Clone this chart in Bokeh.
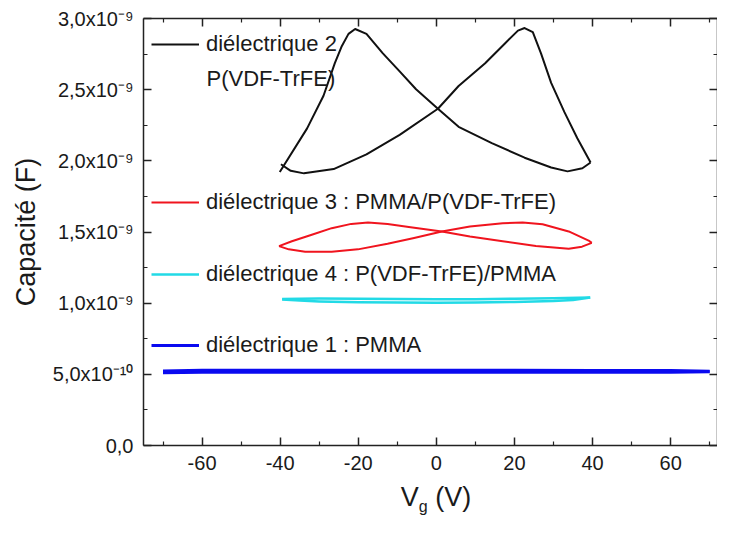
from bokeh.plotting import figure
from bokeh.models import (Legend, LegendItem, Label, LinearAxis, FixedTicker,
                          CustomJSTickFormatter, Range1d, Div)
from bokeh.layouts import column
from bokeh.embed import file_html
from bokeh.resources import INLINE

FONT = "Liberation Sans"

# ---------------- data (Vg in V, capacitance in F) ----------------
# dielectric 2 : P(VDF-TrFE)
vg_d2_fwd = [-39.8, -37.3, -33.9, -26.3, -17.9, -9.4, 0.4, 5.7, 12.5, 17.5, 20.9, 22.6, 24.7, 26.8, 29.4, 32.8, 36.1, 39.5]
c_d2_fwd = [1.976e-9, 1.930e-9, 1.912e-9, 1.942e-9, 2.045e-9, 2.182e-9, 2.366e-9, 2.526e-9, 2.686e-9, 2.823e-9,
            2.915e-9, 2.933e-9, 2.904e-9, 2.755e-9, 2.548e-9, 2.342e-9, 2.159e-9, 1.988e-9]
vg_d2_bwd = [39.5, 37.4, 33.6, 29.4, 22.6, 14.2, 5.7, 0.4, -5.2, -9.4, -13.7, -17.9, -20.8, -22.5, -24.3, -26.0, -28.9, -33.1, -40.1]
c_d2_bwd = [1.988e-9, 1.948e-9, 1.926e-9, 1.953e-9, 2.022e-9, 2.125e-9, 2.239e-9, 2.366e-9, 2.503e-9, 2.629e-9,
            2.755e-9, 2.892e-9, 2.926e-9, 2.892e-9, 2.801e-9, 2.686e-9, 2.457e-9, 2.228e-9, 1.921e-9]

# dielectric 3 : PMMA/P(VDF-TrFE)
vg_d3_fwd = [-40.3, -37.8, -33.6, -26.8, -20.1, -12.5, -5.7, 1.4, 8.6, 17.0, 22.1, 27.2, 33.9, 39.0, 39.8]
c_d3_fwd = [1.401e-9, 1.378e-9, 1.362e-9, 1.362e-9, 1.378e-9, 1.417e-9, 1.458e-9, 1.504e-9, 1.538e-9, 1.562e-9,
            1.566e-9, 1.555e-9, 1.504e-9, 1.440e-9, 1.424e-9]
vg_d3_bwd = [39.8, 37.3, 33.9, 25.5, 17.0, 8.6, 1.4, -6.6, -12.5, -17.5, -21.8, -26.8, -31.9, -37.0, -40.3]
c_d3_bwd = [1.424e-9, 1.397e-9, 1.383e-9, 1.401e-9, 1.435e-9, 1.469e-9, 1.504e-9, 1.534e-9, 1.557e-9, 1.566e-9,
            1.557e-9, 1.527e-9, 1.481e-9, 1.435e-9, 1.401e-9]

# dielectric 4 : P(VDF-TrFE)/PMMA
vg_d4_fwd = [-39.5, -35, -30, -20, -10, 0, 10, 20, 30, 35, 39.4]
c_d4_fwd = [1.026e-9, 1.018e-9, 1.012e-9, 1.006e-9, 1.004e-9, 1.003e-9, 1.005e-9, 1.008e-9, 1.015e-9, 1.022e-9, 1.040e-9]
vg_d4_bwd = [39.4, 30, 20, 10, 0, -10, -20, -30, -39.5]
c_d4_bwd = [1.040e-9, 1.035e-9, 1.031e-9, 1.028e-9, 1.027e-9, 1.029e-9, 1.031e-9, 1.032e-9, 1.030e-9]

# dielectric 1 : PMMA
vg_d1_fwd = [-70, -60, -40, -20, 0, 20, 40, 60, 70]
c_d1_fwd = [0.512e-9, 0.514e-9, 0.515e-9, 0.515e-9, 0.515e-9, 0.515e-9, 0.515e-9, 0.515e-9, 0.518e-9]
vg_d1_bwd = [70, 60, 40, 20, 0, -20, -40, -60, -70]
c_d1_bwd = [0.522e-9, 0.527e-9, 0.527e-9, 0.528e-9, 0.528e-9, 0.528e-9, 0.528e-9, 0.528e-9, 0.524e-9]

# axes ticks
x_ticks = [-60, -40, -20, 0, 20, 40, 60]
x_minor = [-70, -50, -30, -10, 10, 30, 50, 70]
y_ticks = [0.0, 0.5e-9, 1.0e-9, 1.5e-9, 2.0e-9, 2.5e-9, 3.0e-9]
y_minor = [0.25e-9, 0.75e-9, 1.25e-9, 1.75e-9, 2.25e-9, 2.75e-9]

labels = ["diélectrique 2", "diélectrique 3 : PMMA/P(VDF-TrFE)",
          "diélectrique 4 : P(VDF-TrFE)/PMMA", "diélectrique 1 : PMMA"]
label2_line2 = "P(VDF-TrFE)"
colors = {"d2": "#111111", "d3": "#F0141E", "d4": "#22DAE6", "d1": "#0A0AF0"}

x_start, x_end = -75, 72
y_start, y_end = 0, 3.0e-9

W, H_TOTAL, TITLE_H = 717, 517, 34
H = H_TOTAL - TITLE_H
B_LEFT, B_TOP, B_BOTTOM = 143, 18, 38
FRAME_H = H - B_TOP - B_BOTTOM

p = figure(width=W, height=H, output_backend="svg", toolbar_location=None,
           x_range=Range1d(x_start, x_end), y_range=Range1d(y_start, y_end),
           min_border_left=B_LEFT, min_border_right=0, min_border_top=B_TOP, min_border_bottom=B_BOTTOM,
           background_fill_color="white", border_fill_color="white")
p.outline_line_color = None
p.xgrid.visible = False
p.ygrid.visible = False

xt = FixedTicker(ticks=x_ticks, minor_ticks=x_minor)
yt = FixedTicker(ticks=y_ticks, minor_ticks=y_minor)

yfmt = CustomJSTickFormatter(code="""
    if (Math.abs(tick) < 1e-15) return "0,0";
    const e = Math.floor(Math.log10(Math.abs(tick)) + 1e-9);
    const m = tick / Math.pow(10, e);
    const sup = {"-":"\u207b","0":"\u2070","1":"\u00b9","2":"\u00b2","3":"\u00b3","4":"\u2074",
                 "5":"\u2075","6":"\u2076","7":"\u2077","8":"\u2078","9":"\u2079"};
    return m.toFixed(1).replace(".", ",") + "x10" + String(e).split("").map(c => sup[c]).join("");
""")
xfmt = CustomJSTickFormatter(code="return tick.toFixed(0);")
nofmt = CustomJSTickFormatter(code="return '';")


def style_axis(ax, show_labels):
    ax.axis_line_color = "#222222"
    ax.axis_line_width = 1.5
    ax.major_tick_line_color = "#222222"
    ax.minor_tick_line_color = "#222222"
    ax.major_tick_line_width = 1.5
    ax.minor_tick_line_width = 1.2
    ax.major_tick_in = 8
    ax.major_tick_out = 0
    ax.minor_tick_in = 4
    ax.minor_tick_out = 0
    ax.major_label_text_font = FONT
    if show_labels:
        ax.major_label_text_font_size = "20px"
        ax.major_label_text_color = "#1a1a1a"
    else:
        ax.formatter = nofmt
        ax.major_label_text_font_size = "2px"
        ax.major_label_text_color = None
        ax.major_label_standoff = 0


xa = p.xaxis[0]
ya = p.yaxis[0]
xa.ticker = xt
ya.ticker = yt
xa.formatter = xfmt
ya.formatter = yfmt
style_axis(xa, True)
style_axis(ya, True)
xa.major_label_standoff = 10
ya.major_label_standoff = 10
ya.axis_label = "Capacité (F)"
ya.axis_label_text_font = FONT
ya.axis_label_text_font_size = "27px"
ya.axis_label_text_font_style = "normal"
ya.axis_label_text_color = "#1a1a1a"
ya.axis_label_standoff = 9

top = LinearAxis(ticker=xt)
right = LinearAxis(ticker=yt)
style_axis(top, False)
style_axis(right, False)
p.add_layout(top, "above")
p.add_layout(right, "right")

# curves
r2 = [p.line(vg_d2_fwd, c_d2_fwd, line_color=colors["d2"], line_width=2, line_join="round"),
      p.line(vg_d2_bwd, c_d2_bwd, line_color=colors["d2"], line_width=2, line_join="round")]
r3 = [p.line(vg_d3_fwd, c_d3_fwd, line_color=colors["d3"], line_width=2, line_join="round"),
      p.line(vg_d3_bwd, c_d3_bwd, line_color=colors["d3"], line_width=2, line_join="round")]
r4 = [p.line(vg_d4_fwd, c_d4_fwd, line_color=colors["d4"], line_width=2.5, line_join="round"),
      p.line(vg_d4_bwd, c_d4_bwd, line_color=colors["d4"], line_width=2.5, line_join="round")]
r1 = [p.line(vg_d1_fwd, c_d1_fwd, line_color=colors["d1"], line_width=3, line_join="round"),
      p.line(vg_d1_bwd, c_d1_bwd, line_color=colors["d1"], line_width=3, line_join="round")]

# legends (one per entry, as in the original); centres measured from the frame top
legend_centres = [27, 185, 257, 328]
for lab, rends, yc in zip(labels, [r2, r3, r4, r1], legend_centres):
    leg = Legend(items=[LegendItem(label=lab, renderers=[rends[0]])],
                 location=(8, FRAME_H - yc - 12),
                 glyph_width=48, glyph_height=20, label_height=20, label_standoff=7,
                 padding=0, margin=0, spacing=0, border_line_color=None,
                 background_fill_alpha=0, label_text_font=FONT, label_text_font_size="22px",
                 label_text_color="#1a1a1a")
    p.add_layout(leg)

p.add_layout(Label(x=x_start, y=y_end, text=label2_line2, text_font=FONT, text_font_size="22px",
                   text_color="#1a1a1a", text_align="left", text_baseline="alphabetic",
                   x_offset=63, y_offset=-60))

# x-axis title  V_g (V), centred under Vg = 0
x0_px = B_LEFT + (0 - x_start) / (x_end - x_start) * (W - B_LEFT)
pad_left = int(round(2 * x0_px - W))
title_html = (
    f'<div style="width:{W}px;height:{TITLE_H}px;box-sizing:border-box;padding-left:{pad_left}px;'
    f'text-align:center;font-family:\'{FONT}\';font-size:27px;line-height:28px;color:#1a1a1a;'
    'white-space:nowrap;">'
    'V<span style="font-size:16px;position:relative;top:6px;margin-left:0px;margin-right:0px;'
    'line-height:0;">g</span>&nbsp;(V)</div>'
)
title_div = Div(text=title_html, width=W, height=TITLE_H, margin=0)

layout = column(p, title_div, spacing=0)

open("out.html", "w").write(file_html(layout, INLINE))
